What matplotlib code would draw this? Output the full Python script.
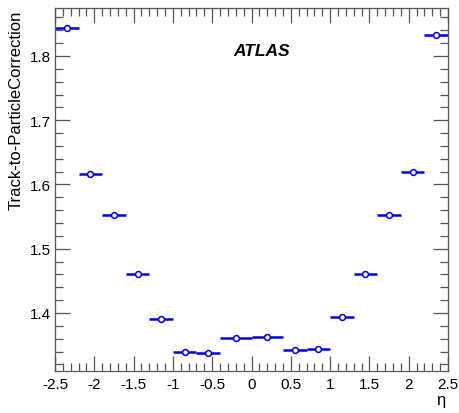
import numpy as np
import matplotlib
matplotlib.use("Agg")
import matplotlib.pyplot as plt
from matplotlib.ticker import MultipleLocator

# eta bin edges and track-to-particle correction per bin
eta_edges = [-2.5, -2.2, -1.9, -1.6, -1.3, -1.0, -0.7, -0.4, 0.0,
             0.4, 0.7, 1.0, 1.3, 1.6, 1.9, 2.2, 2.5]
correction = [1.843, 1.617, 1.553, 1.460, 1.390, 1.339, 1.337, 1.361,
              1.363, 1.342, 1.344, 1.393, 1.461, 1.553, 1.619, 1.832]
correction_err = [0.002] * 16

plt.rcParams['font.family'] = ['Liberation Sans', 'DejaVu Sans']

edges = np.array(eta_edges)
centers = 0.5 * (edges[1:] + edges[:-1])
half_widths = 0.5 * (edges[1:] - edges[:-1])

W, H = 459, 414
fig = plt.figure(figsize=(W / 100, H / 100), dpi=100)
ax = fig.add_axes([55 / W, 1 - 372 / H, 393 / W, 363 / H])

blue = '#0000dd'
ax.errorbar(centers, correction, xerr=half_widths, yerr=correction_err,
            fmt='o', color=blue, ecolor=blue, elinewidth=1.8, capsize=0,
            markersize=4.2, markerfacecolor='white', markeredgecolor=blue,
            markeredgewidth=1.1)

ax.set_xlim(-2.5, 2.5)
ax.set_ylim(1.3097, 1.8747)

ax.xaxis.set_major_locator(MultipleLocator(0.5))
ax.xaxis.set_minor_locator(MultipleLocator(0.1))
ax.yaxis.set_major_locator(MultipleLocator(0.1))
ax.yaxis.set_minor_locator(MultipleLocator(0.02))
ax.xaxis.set_major_formatter(plt.FuncFormatter(lambda v, p: '%g' % round(v, 2)))
ax.yaxis.set_major_formatter(plt.FuncFormatter(lambda v, p: '%g' % round(v, 2)))

ax.tick_params(which='both', direction='in', top=True, right=True,
               color='#555555', labelsize=11)
ax.tick_params(axis='y', pad=3)
ax.tick_params(axis='x', pad=4)
ax.tick_params(which='major', length=11, width=0.9)
ax.tick_params(which='minor', length=5.5, width=0.9)
for s in ax.spines.values():
    s.set_color('#555555')
    s.set_linewidth(0.9)

fig.text(16 / W, 1 - 11 / H, 'Track-to-ParticleCorrection', fontsize=12,
         rotation=90, ha='center', va='top')
fig.text(441 / W, 1 - 401 / H, 'η', fontsize=12, ha='center', va='center')
fig.text(233 / W, 1 - 52 / H, 'ATLAS', fontsize=12.5, fontweight='bold',
         fontstyle='italic', ha='left', va='center')

fig.savefig('out.png', dpi=100)
